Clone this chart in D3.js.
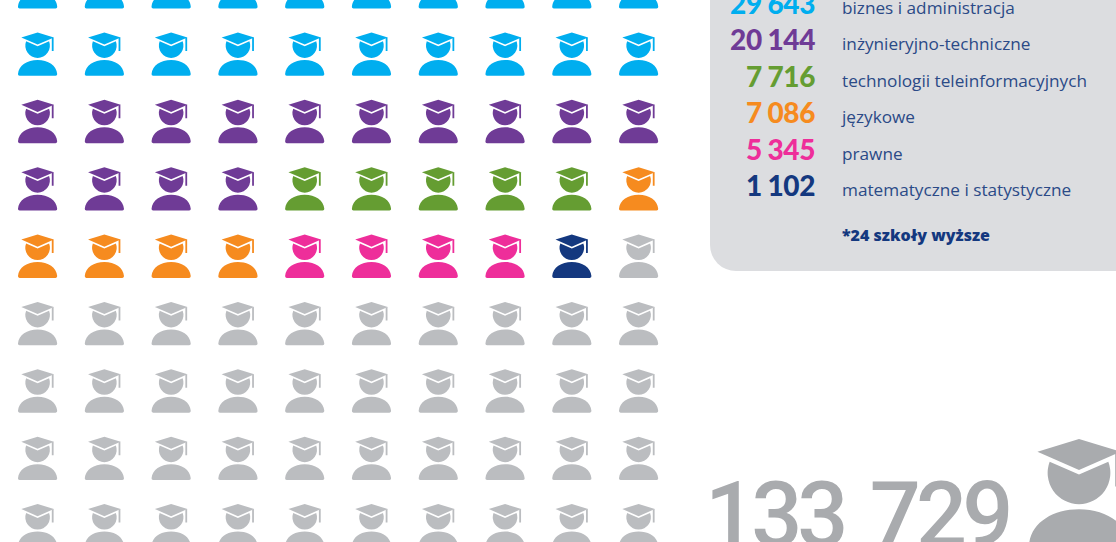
<!DOCTYPE html>
<html>
<head>
<meta charset="utf-8">
<script src="https://cdn.jsdelivr.net/npm/d3@7"></script>
<style>
  html, body { margin: 0; padding: 0; background: #fff; overflow: hidden; }
  svg { display: block; }
</style>
</head>
<body>
<div id="chart"></div>
<script>
// chart data
const counts = ["29 643", "20 144", "7 716", "7 086", "5 345", "1 102"];
const fields = ["biznes i administracja", "inżynieryjno-techniczne", "technologii teleinformacyjnych", "językowe", "prawne", "matematyczne i statystyczne"];
const fieldColors = ["#00aeef", "#6f3b96", "#659d32", "#f68b1f", "#ee2e9a", "#14387f"];
const iconCounts = [20, 14, 5, 5, 4, 1];
const restColor = "#bbbdc0";
const restCount = 41;
const footnote = "*24 szkoły wyższe";
const total = "133 729";

const width = 1116;
const height = 542;
const columns = 10;
const rows = 9;

const svg = d3.select("#chart").append("svg")
  .attr("width", width)
  .attr("height", height);

// one icon, drawn around the top middle of the cap
function drawIcon(parent, color) {
  const g = parent.append("g").attr("fill", color);
  g.append("path").attr("d", "M0,0 L16.3,5 L0,12.2 L-16.3,5 Z");
  g.append("path").attr("d", "M14.2,5.6 L16,5 L16,18.6 L14.2,18.6 Z");
  g.append("path").attr("d", "M-11.5,8.9 L0,13.9 L11.5,8.9 A12.3,12.3 0 1 1 -11.5,8.9 Z");
  g.append("path").attr("d", "M-19.6,41.6 C-19,33 -10.5,27.5 0,27.5 C10.5,27.5 19,33 19.6,41.6 Q19.8,43.4 18,43.4 L-18,43.4 Q-19.8,43.4 -19.6,41.6 Z");
  return g;
}

// icon grid, filled row by row
const iconColors = fieldColors.flatMap((c, i) => d3.range(iconCounts[i]).map(() => c))
  .concat(d3.range(restCount).map(() => restColor));

const x = d3.scalePoint().domain(d3.range(columns)).range([37.6, 638.6]);
const y = d3.scalePoint().domain(d3.range(rows)).range([-35, 504]);

iconColors.forEach((color, i) => {
  drawIcon(svg, color)
    .attr("transform", `translate(${x(i % columns)},${y(Math.floor(i / columns))})`);
});

// legend panel (runs off the top and right of the picture)
svg.append("rect")
  .attr("x", 710)
  .attr("y", -60)
  .attr("width", 470)
  .attr("height", 331)
  .attr("rx", 26)
  .attr("fill", "#dcdde0");

const rowY = d3.scalePoint().domain(d3.range(fields.length)).range([13.5, 196]);

svg.selectAll(".count")
  .data(counts)
  .enter().append("text")
  .attr("class", "count")
  .attr("x", 815)
  .attr("y", (d, i) => rowY(i))
  .attr("text-anchor", "end")
  .attr("fill", (d, i) => fieldColors[i])
  .style("font-family", "Lato, sans-serif")
  .style("font-size", "28px")
  .style("font-weight", 900)
  .style("word-spacing", "-0.5px")
  .style("letter-spacing", "-0.4px")
  .text(d => d);

svg.selectAll(".field")
  .data(fields)
  .enter().append("text")
  .attr("class", "field")
  .attr("x", 842)
  .attr("y", (d, i) => rowY(i))
  .attr("fill", "#2b4a87")
  .style("font-family", "'Open Sans', sans-serif")
  .style("font-size", "17.2px")
  .text(d => d);

svg.append("text")
  .attr("x", 842)
  .attr("y", 241)
  .attr("fill", "#14387f")
  .style("font-family", "'Open Sans', sans-serif")
  .style("font-size", "16px")
  .style("font-weight", 800)
  .text(footnote);

// total at the bottom
svg.append("text")
  .attr("x", 705)
  .attr("y", 546)
  .attr("fill", "#a9abae")
  .style("font-family", "Roboto, sans-serif")
  .style("font-size", "90px")
  .style("font-weight", 500)
  .style("letter-spacing", "-5px")
  .style("word-spacing", "9px")
  .text(total);

drawIcon(svg, "#a9abae")
  .attr("transform", "translate(1079,439) scale(2.55)");
</script>
</body>
</html>
